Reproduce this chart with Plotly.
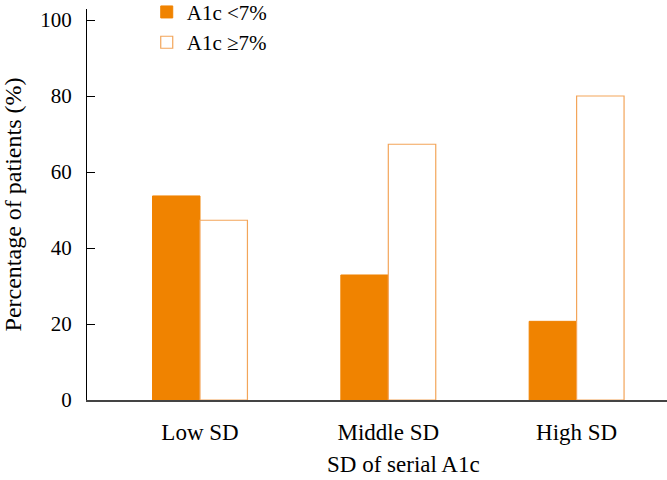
import plotly.graph_objects as go

categories = ["Low SD", "Middle SD", "High SD"]
below7 = [53.7, 32.9, 20.7]
above7 = [47.3, 67.3, 80.0]
y_ticks = [0, 20, 40, 60, 80, 100]

FONT = "'Liberation Serif', 'Times New Roman', Times, serif"
ORANGE = "#F08300"
OUTLINE = "#F3A55A"

fig = go.Figure()
fig.add_trace(go.Bar(
    x=categories, y=below7, name="A1c <7%",
    marker=dict(color=ORANGE, line=dict(color=ORANGE, width=1)),
    legendgroup="a",
))
fig.add_trace(go.Bar(
    x=categories, y=above7, name="A1c \u22657%",
    marker=dict(color="white", line=dict(color=OUTLINE, width=1.2)),
    legendgroup="b",
))

fig.update_layout(
    width=667, height=480,
    margin=dict(l=87, r=0, t=9, b=80, autoexpand=False),
    paper_bgcolor="white", plot_bgcolor="white",
    font=dict(family=FONT, size=21, color="black"),
    barmode="group", bargap=0.496, bargroupgap=0,
    showlegend=True,
    legend=dict(
        x=0.103, y=1.044, xanchor="left", yanchor="top",
        font=dict(family=FONT, size=21, color="black"),
        bgcolor="rgba(0,0,0,0)", tracegroupgap=6,
        traceorder="normal", itemwidth=30,
    ),
    xaxis=dict(
        range=[-0.6, 2.48], showline=True, linecolor="#444", linewidth=1.5,
        ticks="", showgrid=False, zeroline=False, automargin=False,
        tickfont=dict(family=FONT, size=23), ticklabelstandoff=11,
    ),
    yaxis=dict(
        range=[0, 102.9], tickvals=y_ticks, showline=True, linecolor="black",
        linewidth=1.2, ticks="inside", ticklen=8, tickcolor="black",
        showgrid=False, zeroline=False, automargin=False,
        tickfont=dict(family=FONT, size=21), ticklabelstandoff=10,
        title=dict(text="Percentage of patients (%)", font=dict(family=FONT, size=24), standoff=14),
    ),
    annotations=[dict(
        text="SD of serial A1c", xref="paper", yref="paper",
        x=0.545, y=-0.166, xanchor="center", yanchor="middle",
        showarrow=False, font=dict(family=FONT, size=23, color="black"),
    )],
)

fig.write_html(
    "out.html",
    config={"displayModeBar": False},
    post_script="document.body.style.margin='0';document.body.style.padding='0';",
)
